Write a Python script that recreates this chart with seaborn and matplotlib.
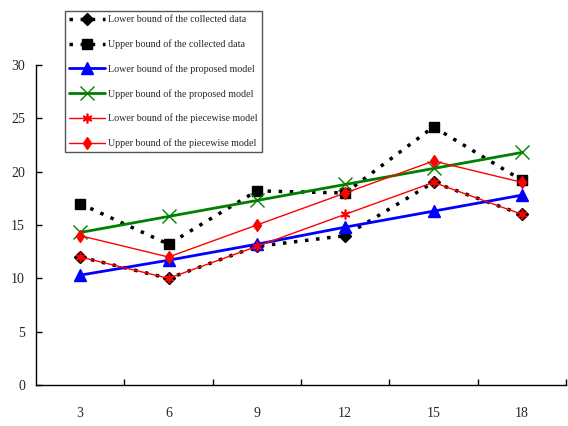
import numpy as np
import pandas as pd
import matplotlib
matplotlib.use("Agg")
import matplotlib.pyplot as plt
import seaborn as sns

# ---------------------------- data ----------------------------
x_labels = ["3", "6", "9", "12", "15", "18"]
lower_collected = [12, 10, 13, 14, 19, 16]
upper_collected = [17, 13.2, 18.2, 18, 24.2, 19.2]
lower_proposed = [10.3, 11.7, 13.2, 14.8, 16.3, 17.8]
upper_proposed = [14.3, 15.8, 17.3, 18.8, 20.3, 21.8]
lower_piecewise = [12, 10, 13, 16, 19, 16]
upper_piecewise = [14, 12, 15, 18, 21, 19]

series_names = [
    "Lower bound of the collected data",
    "Upper bound of the collected data",
    "Lower bound of the proposed model",
    "Upper bound of the proposed model",
    "Lower bound of the piecewise model",
    "Upper bound of the piecewise model",
]
series_values = [lower_collected, upper_collected, lower_proposed,
                 upper_proposed, lower_piecewise, upper_piecewise]

# style per series
styles = [
    dict(color="black", lw=2.5, dashes=(1, 2.2), marker="D", ms=6, mec="black", mew=1),
    dict(color="black", lw=2.5, dashes=(1, 2.2), marker="s", ms=7, mec="black", mew=1),
    dict(color="#0000ff", lw=2, dashes="", marker="^", ms=8, mec="#0000ff", mew=1),
    dict(color="#008000", lw=2, dashes="", marker="x", ms=10, mec="#008000", mew=1),
    dict(color="#ff0000", lw=1, dashes="", marker=(6, 2, 0), ms=7, mec="#ff0000", mew=1.2),
    dict(color="#ff0000", lw=1, dashes="", marker="d", ms=6, mec="#ff0000", mew=1),
]

sns.set_theme(style="white")
plt.rcParams["font.family"] = ["Liberation Serif", "DejaVu Serif"]

fig = plt.figure(figsize=(5.68, 4.26), dpi=100)
ax = fig.add_axes([0.0634, 0.0962, 0.9331, 0.7512])

pos = np.arange(len(x_labels))
for name, vals, st in zip(series_names, series_values, styles):
    df = pd.DataFrame({"x": pos, "y": vals})
    sns.lineplot(data=df, x="x", y="y", ax=ax, color=st["color"], linewidth=st["lw"],
                 marker=st["marker"], markersize=st["ms"], markeredgecolor=st["mec"],
                 markeredgewidth=st["mew"], label=name)
    ln = ax.get_lines()[-1]
    if st["dashes"]:
        ln.set_dashes(st["dashes"])

ax.set_xlim(-0.5, 5.5)
ax.set_ylim(0, 30)
ax.set_xticks(pos)
ax.set_xticklabels(x_labels)
ax.set_xticks(pos + 0.5, minor=True)
ax.set_yticks(range(0, 31, 5))
ax.tick_params(axis="x", which="major", length=0, pad=16, labelsize=10)
ax.tick_params(axis="x", which="minor", direction="in", length=4, width=1, color="black", bottom=True)
ax.tick_params(axis="y", direction="in", length=4, width=1, color="black", left=True, labelsize=10, pad=8)
ax.set_xlabel("")
ax.set_ylabel("")
for s in ["top", "right"]:
    ax.spines[s].set_visible(False)
for s in ["left", "bottom"]:
    ax.spines[s].set_color("black")
    ax.spines[s].set_linewidth(1)

leg = ax.legend(loc="lower left", bbox_to_anchor=(65 / 568, 1 - 152 / 426), bbox_transform=fig.transFigure,
                fontsize=7.2, frameon=True, fancybox=False, handlelength=3.6, handletextpad=0.3,
                labelspacing=1.5, borderpad=0.4, borderaxespad=0)
leg.get_frame().set_edgecolor("#555555")
leg.get_frame().set_linewidth(1)
leg.get_frame().set_alpha(1)

fig.savefig("out.png", dpi=100)
